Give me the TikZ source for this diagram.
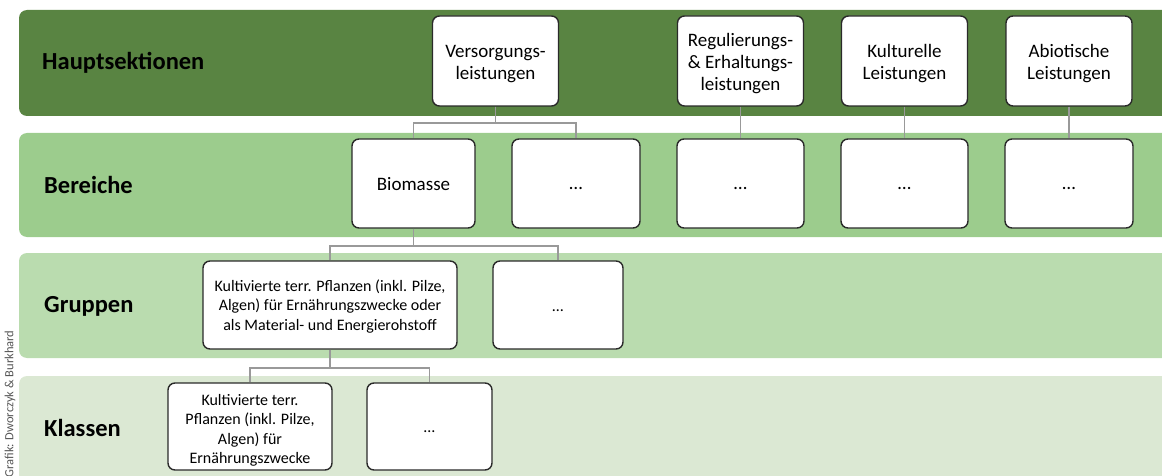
\documentclass[tikz,border=0pt]{standalone}
\usepackage{fontspec}
\setmainfont{Carlito}
\definecolor{bandA}{HTML}{598442}
\definecolor{bandB}{HTML}{9CCC8D}
\definecolor{bandC}{HTML}{BADCAF}
\definecolor{bandD}{HTML}{DBE8D3}
\definecolor{boxline}{HTML}{2A2A2A}
\definecolor{linkgray}{HTML}{999999}
\definecolor{credit}{HTML}{555555}
% placeholder dots, set slightly below the box centre
\newcommand{\moredots}{\raisebox{-6pt}[0pt][0pt]{…}}
% centred multi-line text, lowered a little inside its box
\newcommand{\lowtext}[2][3pt]{\raisebox{-#1}[\height][\depth]{\begin{tabular}{@{}c@{}}#2\end{tabular}}}
\begin{document}
\begin{tikzpicture}[x=1pt,y=-1pt,
  band/.style={rounded corners=8pt},
  level/.style={anchor=west, inner sep=0pt, font=\fontsize{24.5}{28}\selectfont\bfseries, text=black},
  card/.style={draw=boxline, fill=white, line width=1.4pt, rounded corners=7pt,
    align=center, inner sep=0pt, font=\fontsize{19}{22}\selectfont},
  smallcard/.style={card, font=\fontsize{16}{19.5}\selectfont},
  link/.style={draw=linkgray, line width=1.7pt}
]
\useasboundingbox (0,0) rectangle (1162,476);
\clip (0,0) rectangle (1162,476);

% horizontal bands, one per hierarchy level
\fill[bandA, band] (19,10) rectangle (1190,116);
\fill[bandB, band] (19,133) rectangle (1190,237);
\fill[bandC, band] (19,253) rectangle (1190,358);
\fill[bandD, band] (19,376) rectangle (1190,500);

% level labels
\node[level] (lH) at (42,63)  {Hauptsektionen};
\node[level] (lB) at (44,185) {Bereiche};
\node[level] (lG) at (44,306) {Gruppen};
\node[level] (lK) at (44,428) {Klassen};

% credit line
\node[rotate=90, inner sep=0pt, font=\fontsize{12.5}{14}\selectfont, text=credit] (cr) at (10,404) {Grafik: Dworczyk \& Burkhard};

% sections
\node[card, minimum width=126pt, minimum height=90pt] (h1) at (495.5,61) {\lowtext{Versorgungs-\\leistungen}};
\node[card, minimum width=126pt, minimum height=90pt] (h2) at (740.5,61) {\lowtext{Regulierungs-\\\& Erhaltungs-\\leistungen}};
\node[card, minimum width=126pt, minimum height=90pt] (h3) at (904.5,61) {\lowtext{Kulturelle\\Leistungen}};
\node[card, minimum width=126pt, minimum height=90pt] (h4) at (1069,61) {\lowtext{Abiotische\\Leistungen}};

% divisions
\node[card, minimum width=123pt, minimum height=89pt] (b1) at (413.5,183.5) {\lowtext{Biomasse}};
\node[card, minimum width=128pt, minimum height=89pt] (b2) at (576,183.5) {\moredots};
\node[card, minimum width=127pt, minimum height=89pt] (b3) at (740.5,183.5) {\moredots};
\node[card, minimum width=127pt, minimum height=89pt] (b4) at (904.5,183.5) {\moredots};
\node[card, minimum width=128pt, minimum height=89pt] (b5) at (1069,183.5) {\moredots};

% groups
\node[smallcard, minimum width=254pt, minimum height=88pt] (g1) at (330,305)
  {\lowtext[2pt]{Kultivierte terr. Pflanzen (inkl. Pilze,\\Algen) für Ernährungszwecke oder\\als Material- und Energierohstoff}};
\node[smallcard, minimum width=130pt, minimum height=88pt] (g2) at (558,305) {\moredots};

% classes
\node[smallcard, minimum width=164pt, minimum height=87pt] (k1) at (250,426.5)
  {\lowtext[4pt]{Kultivierte terr.\\Pflanzen (inkl. Pilze,\\Algen) für\\Ernährungszwecke}};
\node[smallcard, minimum width=125pt, minimum height=87pt] (k2) at (429.5,426.5) {\moredots};

% tree connectors
\path[link] (h1.south) -- ++(0,16) -| (b1.north);
\path[link] (h1.south) -- ++(0,16) -| (b2.north);
\path[link] (h2.south) -- (b3.north);
\path[link] (h3.south) -- (b4.north);
\path[link] (h4.south) -- (b5.north);
\path[link] (b1.south) -- ++(0,17) -| (g1.north);
\path[link] (b1.south) -- ++(0,17) -| (g2.north);
\path[link] (g1.south) -- ++(0,18) -| (k1.north);
\path[link] (g1.south) -- ++(0,18) -| (k2.north);
\end{tikzpicture}
\end{document}
